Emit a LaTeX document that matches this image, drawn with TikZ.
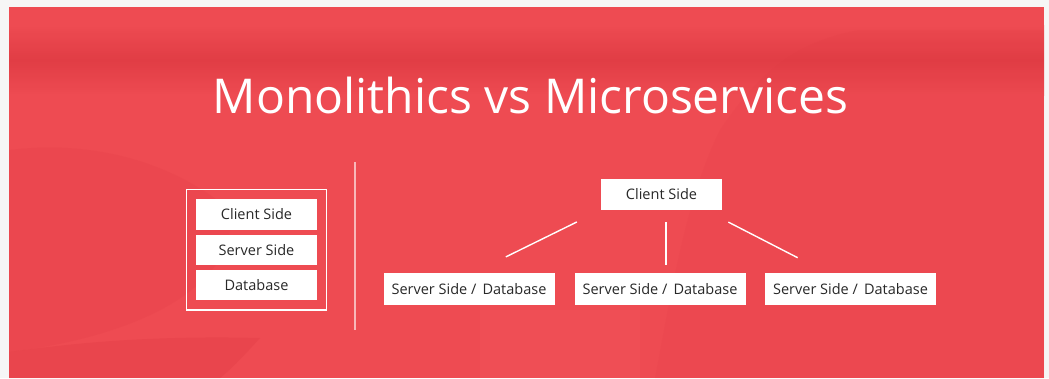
\documentclass[tikz,border=0pt]{standalone}
\usepackage{fontspec}
\setmainfont{Open Sans}
\usetikzlibrary{fit}
\definecolor{pagebg}{RGB}{246,246,246}
\definecolor{redbase}{RGB}{238,75,82}
\definecolor{reddark}{RGB}{222,58,66}
\definecolor{redlight}{RGB}{242,86,92}
\definecolor{txt}{RGB}{40,40,40}
\begin{document}
\begin{tikzpicture}[x=1pt,y=-1pt,
  box/.style={fill=white, draw=none, inner sep=0pt, minimum height=31pt,
              text=txt, font=\fontsize{14.5}{17}\selectfont},
  monobox/.style={box, minimum width=121pt, minimum height=30.5pt},
  microbox/.style={box, minimum width=171pt, minimum height=32pt},
  conn/.style={draw=white, line width=1.4pt},
  frame/.style={draw=white, line width=1.1pt, inner xsep=9.5pt, inner ysep=9.5pt},
]
\useasboundingbox (0,0) rectangle (1049,378);
% page and red panel
\fill[pagebg] (0,0) rectangle (1049,378);
\fill[redbase] (9,7) rectangle (1044,378);
% soft tonal variations of the panel
\shade[top color=redbase, bottom color=redbase, middle color=reddark, opacity=0.8]
  (9,25) rectangle (1044,95);
\fill[reddark, opacity=0.18]
  (9,150) .. controls (90,140) and (170,160) .. (230,210)
  .. controls (240,280) and (150,335) .. (9,352) -- cycle;
\fill[reddark, opacity=0.3]
  (9,352) .. controls (60,345) and (140,335) .. (260,338)
  .. controls (240,360) and (230,370) .. (220,378) -- (9,378) -- cycle;
\fill[reddark, opacity=0.12]
  (655,378) .. controls (670,300) and (685,200) .. (720,130)
  .. controls (760,70) and (800,40) .. (860,30) -- (1044,30) -- (1044,378) -- cycle;
\fill[redlight, opacity=0.35] (480,310) rectangle (640,378);
% separator
\draw[white, opacity=0.6, line width=1.2pt] (355,162) -- (355,330);
% title
\node[anchor=base, text=white, font=\fontsize{48}{56}\selectfont] (title)
  at (530.5,113) {Monolithics vs Microservices};
% monolithic stack
\node[monobox] (mclient) at (256.5,214.5) {Client Side};
\node[monobox] (mserver) at (256.5,250) {Server Side};
\node[monobox] (mdb)     at (256.5,285) {Database};
\node[frame, fit=(mclient)(mdb)] (mono) {};
% microservices
\node[box, minimum width=121pt] (client) at (661.5,194.5) {Client Side};
\node[microbox] (s1) at (469,289)   {Server Side /\, Database};
\node[microbox] (s2) at (660,289)   {Server Side /\, Database};
\node[microbox] (s3) at (850.5,289) {Server Side /\, Database};
\draw[conn, shorten <=26.6pt, shorten >=36pt]
  (client.south west) -- ([xshift=4.5pt]s1.north);
\draw[conn, shorten <=12pt, shorten >=8pt]
  ([xshift=4.5pt]client.south) -- ([xshift=4.5pt]client.south |- s2.north);
\draw[conn, shorten <=26pt, shorten >=33pt]
  ([xshift=-17pt]client.south east) -- ([xshift=-23.5pt]s3.north);
\end{tikzpicture}
\end{document}
